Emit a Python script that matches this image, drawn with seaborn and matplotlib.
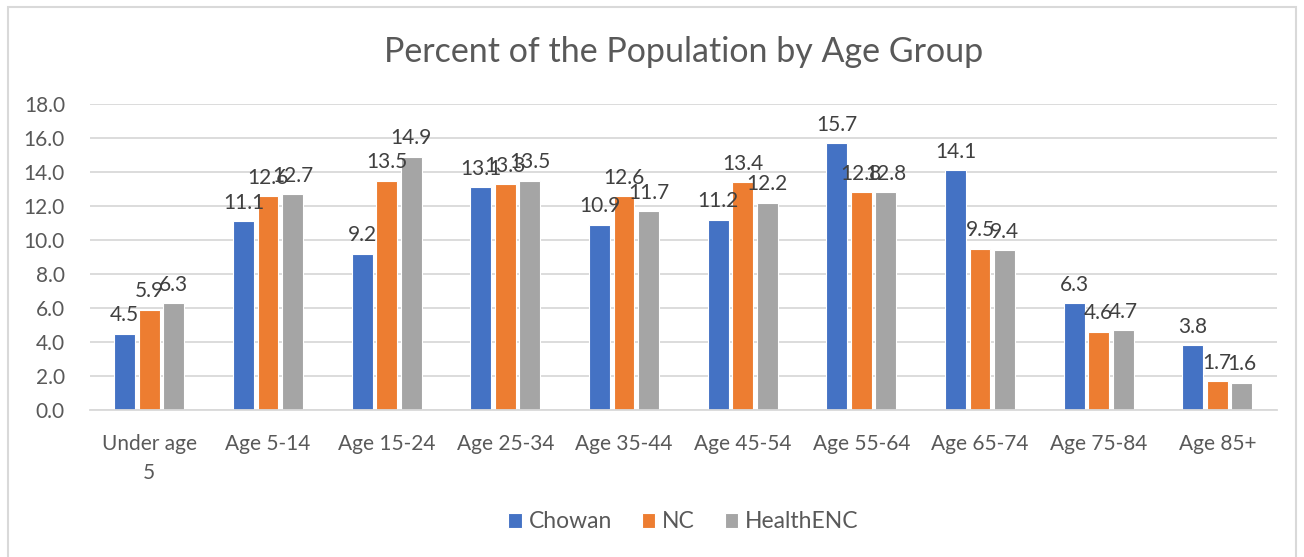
import seaborn as sns
import matplotlib.pyplot as plt
import matplotlib.patches as patches
import pandas as pd

# Data
age_groups = ["Under age\n5", "Age 5-14", "Age 15-24", "Age 25-34", "Age 35-44",
              "Age 45-54", "Age 55-64", "Age 65-74", "Age 75-84", "Age 85+"]
chowan = [4.5, 11.1, 9.2, 13.1, 10.9, 11.2, 15.7, 14.1, 6.3, 3.8]
nc = [5.9, 12.6, 13.5, 13.3, 12.6, 13.4, 12.8, 9.5, 4.6, 1.7]
health_enc = [6.3, 12.7, 14.9, 13.5, 11.7, 12.2, 12.8, 9.4, 4.7, 1.6]
series_names = ["Chowan", "NC", "HealthENC"]
colors = {"Chowan": "#4472C4", "NC": "#ED7D31", "HealthENC": "#A5A5A5"}

df = pd.DataFrame({"Age": age_groups, "Chowan": chowan, "NC": nc, "HealthENC": health_enc})
df_long = df.melt(id_vars="Age", value_vars=series_names, var_name="Area", value_name="Percent")

sns.set_style("white")
plt.rcParams["font.family"] = ["Lato", "DejaVu Sans"]
text_color = "#595959"

fig = plt.figure(figsize=(13.04, 5.57), dpi=100)
ax = fig.add_axes([0.069, 0.264, 0.910, 0.549])

sns.barplot(data=df_long, x="Age", y="Percent", hue="Area", palette=colors,
            saturation=1, width=0.62, gap=0.15, edgecolor="white", linewidth=0.8, ax=ax)

for cont in ax.containers:
    ax.bar_label(cont, fmt="%.1f", padding=6, fontsize=15, color="#404040")

ax.set_ylim(0, 18)
ax.set_yticks([0, 2, 4, 6, 8, 10, 12, 14, 16, 18])
ax.set_yticklabels([f"{v:.1f}" for v in ax.get_yticks()])
ax.yaxis.grid(True, color="#D9D9D9", linewidth=1.3)
ax.set_axisbelow(True)
for side in ["left", "right", "top"]:
    ax.spines[side].set_visible(False)
ax.spines["bottom"].set_color("#D9D9D9")
ax.spines["bottom"].set_linewidth(1.3)
ax.tick_params(axis="both", length=0, labelsize=15, labelcolor=text_color)
ax.tick_params(axis="y", pad=18)
ax.tick_params(axis="x", pad=17)
for lbl in ax.get_xticklabels():
    lbl.set_linespacing(1.6)
ax.set_xlabel("")
ax.set_ylabel("")
ax.set_xlim(-0.5, 9.5)

ax.set_title("Percent of the Population by Age Group", fontsize=24.5, color=text_color, pad=30)

ax.legend(loc="center", bbox_to_anchor=(0.5, -0.366), ncol=3, frameon=False,
          fontsize=16.5, labelcolor=text_color, handlelength=0.6, handleheight=0.6,
          handletextpad=0.3, columnspacing=1.3)

# outer chart border
fig.patches.append(patches.Rectangle((8 / 1304, -0.05), 1288 / 1304, 1.05 - 7 / 557,
                                     transform=fig.transFigure, fill=False,
                                     edgecolor="#D9D9D9", linewidth=1.5))

fig.savefig("out.png", dpi=100)
